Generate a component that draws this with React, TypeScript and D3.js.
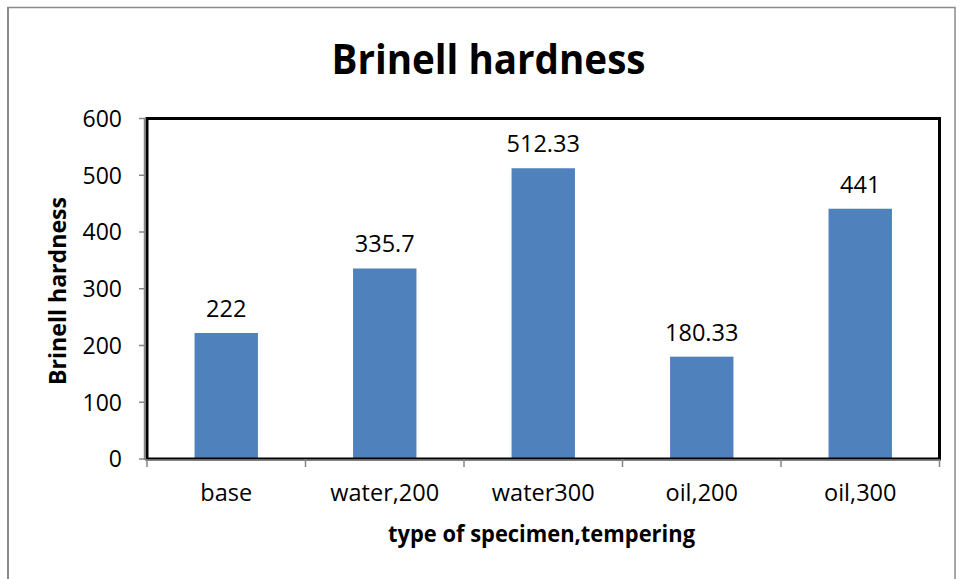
import React from "react";
import * as d3 from "d3";

const categories = ["base", "water,200", "water300", "oil,200", "oil,300"];
const values = [222, 335.7, 512.33, 180.33, 441];
const valueLabels = ["222", "335.7", "512.33", "180.33", "441"];
const yTicks = [0, 100, 200, 300, 400, 500, 600];
const chartTitle = "Brinell hardness";
const xTitle = "type of specimen,tempering";
const yTitle = "Brinell hardness";

const W = 959;
const H = 579;
const left = 147;
const right = 939.5;
const top = 118.5;
const bottom = 459;
const FONT = "'Open Sans', 'Noto Sans', sans-serif";

export default function App() {
  const x = d3
    .scaleBand<string>()
    .domain(categories)
    .range([left, right])
    .paddingInner(0.6)
    .paddingOuter(0.3);
  const y = d3.scaleLinear().domain([0, 600]).range([bottom, top]);
  const step = (right - left) / categories.length;
  const boundaries = d3.range(categories.length + 1).map((i) => left + i * step);

  return (
    <svg
      width={W}
      height={H}
      style={{ position: "fixed", left: 0, top: 0, background: "#fff" }}
      fontFamily={FONT}
    >
      <rect x={0} y={0} width={W} height={H} fill="#fff" />
      {/* outer chart border */}
      <rect x={8} y={7.5} width={947} height={700} fill="none" stroke="#8a8a8a" strokeWidth={1.5} />
      <line x1={8} y1={7} x2={8} y2={H} stroke="#8a8a8a" strokeWidth={2} />

      {/* title */}
      <text x={488.5} y={74} textAnchor="middle" fontSize={42} fontWeight="bold" textLength={314} lengthAdjust="spacingAndGlyphs" fill="#000">
        {chartTitle}
      </text>

      {/* bars */}
      {categories.map((c, i) => (
        <rect
          key={c}
          x={x(c)}
          y={y(values[i])}
          width={x.bandwidth()}
          height={y(0) - y(values[i])}
          fill="#4F81BD"
        />
      ))}

      {/* plot area border */}
      <rect x={left} y={top} width={right - left} height={bottom - top} fill="none" stroke="#000" strokeWidth={3} />

      {/* gray axis lines */}
      <line x1={144.5} y1={top} x2={144.5} y2={bottom + 1} stroke="#868686" strokeWidth={1.5} />
      <line x1={left - 2} y1={460} x2={right} y2={460} stroke="#868686" strokeWidth={1.5} />

      {/* y ticks */}
      {yTicks.map((t) => (
        <g key={t}>
          <line x1={139} x2={145} y1={y(t)} y2={y(t)} stroke="#868686" strokeWidth={1.5} />
          <text x={122} y={y(t)} dy="0.36em" textAnchor="end" fontSize={23} fill="#000">
            {t}
          </text>
        </g>
      ))}

      {/* x ticks */}
      {boundaries.map((b, i) => (
        <line key={i} x1={b} x2={b} y1={459} y2={467} stroke="#868686" strokeWidth={1.5} />
      ))}

      {/* category labels */}
      {categories.map((c) => (
        <text key={c} x={(x(c) as number) + x.bandwidth() / 2} y={501} textAnchor="middle" fontSize={23.5} fill="#000">
          {c}
        </text>
      ))}

      {/* data labels */}
      {categories.map((c, i) => (
        <text key={c} x={(x(c) as number) + x.bandwidth() / 2} y={y(values[i]) - 16} textAnchor="middle" fontSize={23.5} fill="#000">
          {valueLabels[i]}
        </text>
      ))}

      {/* axis titles */}
      <text x={541.5} y={542} textAnchor="middle" fontSize={23} fontWeight="bold" textLength={307} lengthAdjust="spacingAndGlyphs" fill="#000">
        {xTitle}
      </text>
      <text
        transform={`translate(66,291) rotate(-90)`}
        textAnchor="middle"
        fontSize={23.5}
        fontWeight="bold"
        textLength={188}
        lengthAdjust="spacingAndGlyphs"
        fill="#000"
      >
        {yTitle}
      </text>
    </svg>
  );
}
